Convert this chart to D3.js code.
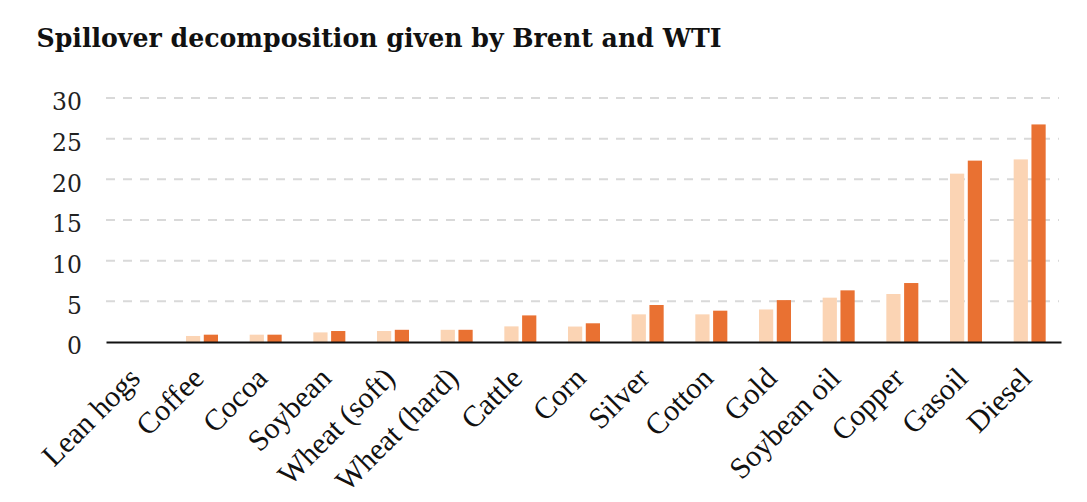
<!DOCTYPE html>
<html>
<head>
<meta charset="utf-8">
<script src="https://cdn.jsdelivr.net/npm/d3@7"></script>
<style>
  html, body { margin: 0; padding: 0; background: #ffffff; }
  svg { display: block; }
</style>
</head>
<body>
<svg id="chart" width="1087" height="502"></svg>
<script>
const categories = ["Lean hogs", "Coffee", "Cocoa", "Soybean", "Wheat (soft)", "Wheat (hard)", "Cattle", "Corn", "Silver", "Cotton", "Gold", "Soybean oil", "Copper", "Gasoil", "Diesel"];
const brentValues = [0, 0.74, 0.9, 1.18, 1.35, 1.5, 1.92, 1.9, 3.4, 3.4, 4.0, 5.45, 5.9, 20.7, 22.45];
const wtiValues   = [0, 0.9, 0.9, 1.35, 1.5, 1.5, 3.27, 2.3, 4.55, 3.85, 5.15, 6.35, 7.25, 22.3, 26.75];
const seriesNames = ["Brent", "WTI"];
const yTicks = [0, 5, 10, 15, 20, 25, 30];
const title = "Spillover decomposition given by Brent and WTI";

const colors = { Brent: "#FBD4B4", WTI: "#E97132" };

const svg = d3.select("#chart");
const plotLeft = 106, plotRight = 1061, plotTop = 98, plotBottom = 342;

const x = d3.scaleBand().domain(categories).range([plotLeft, plotRight]).padding(0);
const xs = d3.scaleBand().domain(seriesNames).range([-15.5, 16.5]).paddingInner(0.2);
const y = d3.scaleLinear().domain([0, 30]).range([plotBottom, plotTop]);

// Title
svg.append("text")
  .attr("x", 36.5).attr("y", 46.5)
  .attr("font-family", "'DejaVu Serif', serif")
  .attr("font-weight", "bold")
  .attr("font-size", 26.5)
  .attr("textLength", 685)
  .attr("lengthAdjust", "spacingAndGlyphs")
  .attr("fill", "#111")
  .text(title);

// Gridlines
svg.append("g").selectAll("line")
  .data(yTicks.filter(d => d > 0))
  .join("line")
  .attr("x1", plotLeft).attr("x2", plotRight - 2)
  .attr("y1", d => y(d)).attr("y2", d => y(d))
  .attr("stroke", "#d9d9d9")
  .attr("stroke-width", 2)
  .attr("stroke-dasharray", "9,8");

// Y axis labels
const yAxis = d3.axisLeft(y).tickValues(yTicks).tickSize(0).tickPadding(0);
const gy = svg.append("g").attr("transform", `translate(${82},0)`).call(yAxis);
gy.select(".domain").remove();
gy.selectAll("text")
  .attr("font-family", "'DejaVu Serif', serif")
  .attr("font-size", 23.5)
  .attr("fill", "#222")
  .attr("dy", "0.5em")
  .attr("dx", 0);

// Bars
const groups = svg.append("g").selectAll("g")
  .data(categories.map((c, i) => ({ cat: c, vals: [ { s: "Brent", v: brentValues[i] }, { s: "WTI", v: wtiValues[i] } ] })))
  .join("g")
  .attr("transform", d => `translate(${x(d.cat) + x.bandwidth() / 2},0)`);

groups.selectAll("rect")
  .data(d => d.vals)
  .join("rect")
  .attr("x", d => xs(d.s))
  .attr("width", xs.bandwidth())
  .attr("y", d => y(d.v))
  .attr("height", d => y(0) - y(d.v))
  .attr("fill", d => colors[d.s]);

// X axis
const xAxis = d3.axisBottom(x).tickSize(0).tickPadding(0);
const gx = svg.append("g").attr("transform", `translate(0,${plotBottom})`).call(xAxis);
gx.select(".domain").attr("stroke", "#111").attr("stroke-width", 2.2);
gx.selectAll(".tick text")
  .attr("font-family", "'Liberation Serif', serif")
  .attr("font-size", 30)
  .attr("fill", "#111")
  .attr("text-anchor", "end")
  .attr("dy", 0)
  .attr("y", 0)
  .attr("transform", "translate(4,38) rotate(-45)");
</script>
</body>
</html>
